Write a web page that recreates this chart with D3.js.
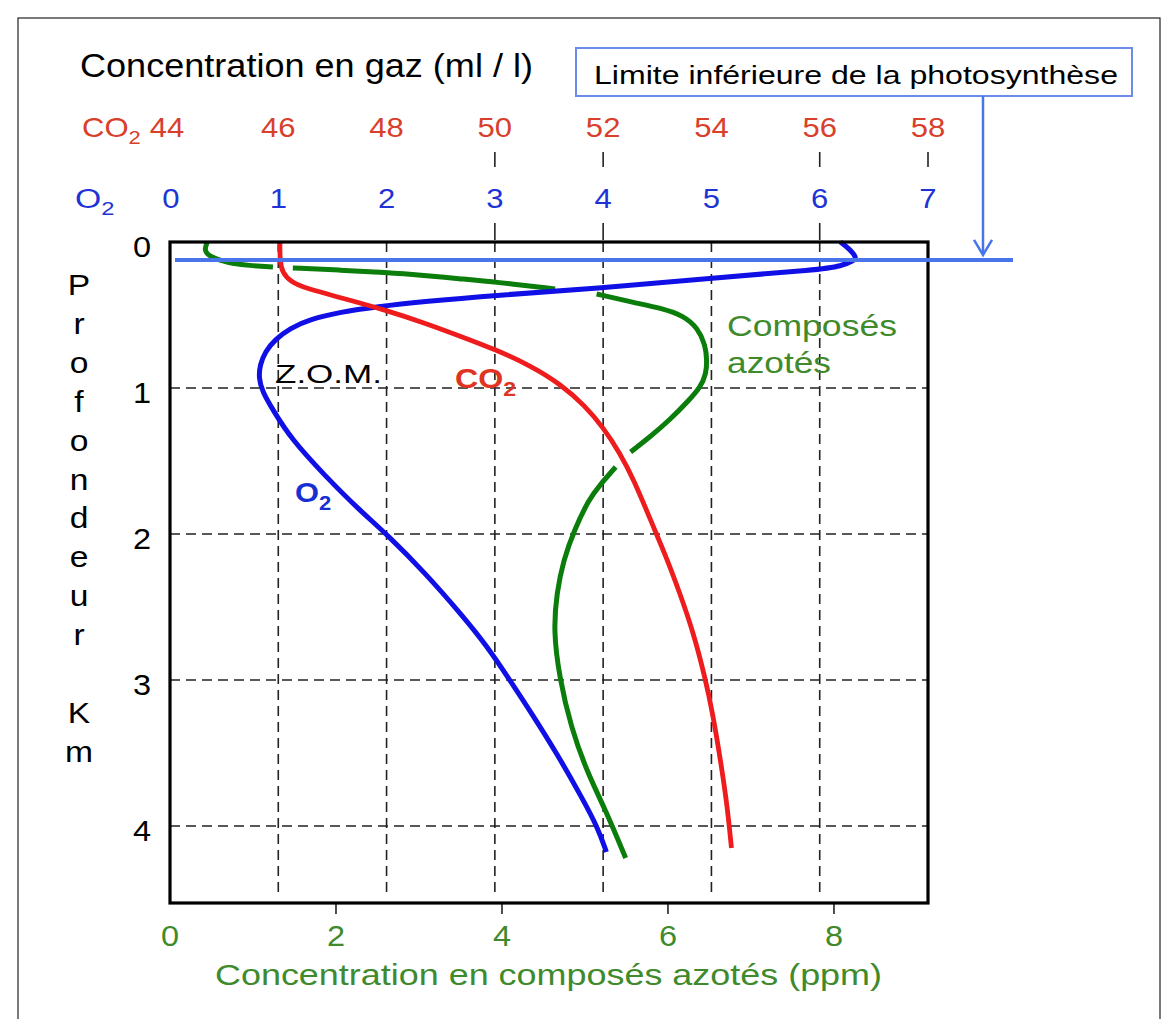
<!DOCTYPE html>
<html>
<head>
<meta charset="utf-8">
<script src="https://cdn.jsdelivr.net/npm/d3@7"></script>
<style>
  html, body { margin: 0; padding: 0; background: #fff; }
  svg { display: block; }
  text { font-family: "Liberation Sans", Arial, sans-serif; }
</style>
</head>
<body>
<svg id="chart" width="1176" height="1019"></svg>
<script>
// ---------------- DATA ----------------
const o2Ticks = [0, 1, 2, 3, 4, 5, 6, 7];
const co2Ticks = [44, 46, 48, 50, 52, 54, 56, 58];
const nitroTicks = [0, 2, 4, 6, 8];
const depthTicks = [0, 1, 2, 3, 4];
const gridO2 = [1, 2, 3, 4, 5, 6];
const gridDepth = [1, 2, 3, 4];
const co2MarkTicks = [50, 52, 56, 58];
const o2MarkTicks = [3, 4, 6];
const photicDepth = 0.123;

// O2 (ml/l) vs depth (km)
const o2Profile = [
  [6.19, 0], [6.27, 0.045], [6.34, 0.105], [6.32, 0.125], [6.20, 0.165], [6.00, 0.19],
  [5.01, 0.245], [4.01, 0.315], [3.00, 0.365], [2.31, 0.41], [1.92, 0.443],
  [1.57, 0.48], [1.29, 0.53], [1.11, 0.59], [0.97, 0.668], [0.88, 0.75],
  [0.83, 0.842], [0.82, 0.932], [0.85, 1.02], [0.95, 1.15], [1.12, 1.35],
  [1.43, 1.60], [1.74, 1.83], [2.01, 2.007], [2.36, 2.27], [2.69, 2.55],
  [2.93, 2.77], [3.12, 2.98], [3.35, 3.24], [3.57, 3.50], [3.80, 3.80],
  [3.95, 4.01], [4.03, 4.178]
];
// CO2 (ml/l) vs depth (km)
const co2Profile = [
  [46.03, 0], [46.03, 0.137], [46.08, 0.21], [46.22, 0.27], [46.52, 0.32],
  [47.20, 0.385], [48.01, 0.47], [48.71, 0.555], [49.36, 0.645], [50.00, 0.735],
  [50.65, 0.845], [51.22, 0.975], [51.66, 1.12], [52.00, 1.27], [52.30, 1.44],
  [52.57, 1.63], [52.87, 1.90], [53.18, 2.17], [53.43, 2.42], [53.67, 2.68],
  [53.88, 2.98], [54.02, 3.22], [54.19, 3.60], [54.30, 3.89], [54.37, 4.151]
];
// Nitrogen compounds (ppm) vs depth (km), drawn as broken segments
const nitroSeg1 = [[0.45, 0.0], [0.41, 0.055], [0.47, 0.10], [0.69, 0.142], [0.96, 0.162], [1.24, 0.171]];
const nitroSeg2 = [[1.48, 0.178], [2.05, 0.192], [2.61, 0.210], [3.01, 0.226], [3.49, 0.252], [3.92, 0.274], [4.64, 0.322]];
const nitroSeg3 = [[5.14, 0.356], [5.59, 0.415], [5.93, 0.455], [6.19, 0.505], [6.36, 0.59], [6.45, 0.705],
  [6.47, 0.808], [6.46, 0.905], [6.39, 0.995], [6.26, 1.08], [6.02, 1.22], [5.78, 1.336], [5.55, 1.438]];
const nitroSeg4 = [[5.37, 1.541], [5.18, 1.664], [5.05, 1.76], [4.87, 1.973], [4.74, 2.18], [4.66, 2.40],
  [4.62, 2.66], [4.69, 2.979], [4.83, 3.322], [5.03, 3.637], [5.24, 3.880], [5.49, 4.219]];

// ---------------- LAYOUT ----------------
const L = 170, R = 928, T = 242, B = 903;
const xO2 = d3.scaleLinear().domain([0, 7]).range([L, R]);
const xCO2 = d3.scaleLinear().domain([44, 58]).range([L, R]);
const xN = d3.scaleLinear().domain([0, 9.133]).range([L, R]);
const yD = d3.scaleLinear().domain([0, 4]).range([T, 826]);

const RED_TXT = "#d8402c", BLUE_TXT = "#1e33d6", GREEN_TXT = "#3f8a2c";
const C_RED = "#ee1c1c", C_BLUE = "#1010e6", C_GREEN = "#0a7d0a", C_LIGHT = "#4a74ea";

const svg = d3.select("#chart");
svg.append("rect").attr("width", 1176).attr("height", 1019).attr("fill", "#fff");
// outer slide border
svg.append("rect").attr("x", 18).attr("y", 18).attr("width", 1142).attr("height", 1030)
  .attr("fill", "none").attr("stroke", "#222").attr("stroke-width", 1.2);

function stretch(sel, sx) {
  sel.each(function () {
    const n = this.getComputedTextLength();
    d3.select(this).attr("textLength", n * sx).attr("lengthAdjust", "spacingAndGlyphs");
  });
}
function txt(x, y, s, o) {
  o = o || {};
  const t = svg.append("text").attr("x", x).attr("y", y)
    .attr("font-size", o.size || 24)
    .attr("fill", o.fill || "#000")
    .attr("font-weight", o.weight || "normal")
    .attr("text-anchor", o.anchor || "start")
    .text(s);
  if (o.len) t.attr("textLength", o.len).attr("lengthAdjust", "spacingAndGlyphs");
  else if (o.sx) stretch(t, o.sx);
  return t;
}
function subTxt(x, y, main, sub, o) {
  const t = svg.append("text").attr("x", x).attr("y", y)
    .attr("font-size", o.size).attr("fill", o.fill).attr("font-weight", o.weight || "normal");
  t.append("tspan").text(main);
  t.append("tspan").attr("font-size", o.subSize).attr("dy", o.dy).text(sub);
  if (o.sx) t.attr("transform", `translate(${x},0) scale(${o.sx},1) translate(${-x},0)`);
  return t;
}

// ---------------- GRID ----------------
const grid = svg.append("g").attr("stroke", "#222").attr("stroke-width", 1.6).attr("stroke-dasharray", "10,6");
grid.selectAll("line.v").data(gridO2).join("line")
  .attr("x1", d => xO2(d)).attr("x2", d => xO2(d)).attr("y1", T).attr("y2", B - 8);
grid.selectAll("line.h").data(gridDepth).join("line")
  .attr("x1", L).attr("x2", R).attr("y1", d => yD(d)).attr("y2", d => yD(d));

// ---------------- TOP AXES ----------------
txt(80, 77, "Concentration en gaz (ml / l)", { size: 33, len: 453 });

subTxt(82, 137, "CO", "2", { size: 27, subSize: 19, dy: 7, fill: RED_TXT, sx: 1.15 });
stretch(svg.selectAll("text.co2t").data(co2Ticks).join("text").attr("class", "co2t")
  .attr("x", d => xCO2(d) + (d === 44 ? -3 : 0)).attr("y", 137)
  .attr("text-anchor", "middle").attr("font-size", 27).attr("fill", RED_TXT)
  .text(d => d), 1.15);
svg.selectAll("line.co2m").data(co2MarkTicks).join("line")
  .attr("x1", d => xCO2(d)).attr("x2", d => xCO2(d)).attr("y1", 152).attr("y2", 167)
  .attr("stroke", "#222").attr("stroke-width", 1.6);

subTxt(75, 208, "O", "2", { size: 27, subSize: 19, dy: 7, fill: BLUE_TXT, sx: 1.25 });
stretch(svg.selectAll("text.o2t").data(o2Ticks).join("text").attr("class", "o2t")
  .attr("x", d => xO2(d) + (d === 0 ? 1 : 0)).attr("y", 208)
  .attr("text-anchor", "middle").attr("font-size", 27).attr("fill", BLUE_TXT)
  .text(d => d), 1.15);
svg.selectAll("line.o2m").data(o2MarkTicks).join("line")
  .attr("x1", d => xO2(d)).attr("x2", d => xO2(d)).attr("y1", 223).attr("y2", 240)
  .attr("stroke", "#222").attr("stroke-width", 1.6);

// ---------------- LEFT AXIS ----------------
stretch(svg.selectAll("text.dt").data(depthTicks).join("text").attr("class", "dt")
  .attr("x", 142).attr("y", d => yD(d) + 15)
  .attr("text-anchor", "middle").attr("font-size", 29).attr("fill", "#000")
  .text(d => d), 1.12);

// "Profondeur", blank line, "Km" stacked vertically
const letterRows = ["P","r","o","f","o","n","d","e","u","r","","K","m"];
letterRows.forEach((c, i) => {
  if (c) txt(79, 295 + i * 38.9, c, { size: 30, anchor: "middle", sx: 1.12 });
});

// ---------------- BOTTOM AXIS ----------------
svg.selectAll("line.nt").data(nitroTicks.filter(d => d > 0)).join("line")
  .attr("x1", d => xN(d)).attr("x2", d => xN(d)).attr("y1", B).attr("y2", B + 11)
  .attr("stroke", "#222").attr("stroke-width", 1.6);
stretch(svg.selectAll("text.nt").data(nitroTicks).join("text").attr("class", "nt")
  .attr("x", d => xN(d)).attr("y", 946)
  .attr("text-anchor", "middle").attr("font-size", 29).attr("fill", GREEN_TXT)
  .text(d => d), 1.12);
txt(215, 985, "Concentration en composés azotés (ppm)", { size: 29, len: 667, fill: GREEN_TXT });

// ---------------- CURVES ----------------
const lineN = d3.line().x(d => xN(d[0])).y(d => yD(d[1])).curve(d3.curveBasis);
const lineO2 = d3.line().x(d => xO2(d[0])).y(d => yD(d[1])).curve(d3.curveBasis);
const lineCO2 = d3.line().x(d => xCO2(d[0])).y(d => yD(d[1])).curve(d3.curveBasis);

const curves = svg.append("g").attr("fill", "none").attr("stroke-linecap", "butt").attr("stroke-linejoin", "round");
[nitroSeg1, nitroSeg2, nitroSeg3, nitroSeg4].forEach(seg => {
  curves.append("path").attr("d", lineN(seg)).attr("stroke", C_GREEN).attr("stroke-width", 5);
});
curves.append("path").attr("d", lineO2(o2Profile)).attr("stroke", C_BLUE).attr("stroke-width", 5);
curves.append("path").attr("d", lineCO2(co2Profile)).attr("stroke", C_RED).attr("stroke-width", 4.8);

// ---------------- FRAME ----------------
svg.append("rect").attr("x", L).attr("y", T).attr("width", R - L).attr("height", B - T)
  .attr("fill", "none").attr("stroke", "#000").attr("stroke-width", 3.2);

// photosynthesis limit
svg.append("line").attr("x1", 175).attr("x2", 1013)
  .attr("y1", yD(photicDepth)).attr("y2", yD(photicDepth))
  .attr("stroke", C_LIGHT).attr("stroke-width", 4);

// annotation box + arrow
svg.append("rect").attr("x", 576).attr("y", 48).attr("width", 556).attr("height", 48)
  .attr("fill", "#fff").attr("stroke", "#6a8ee8").attr("stroke-width", 2);
txt(594, 84, "Limite inférieure de la photosynthèse", { size: 26, len: 524 });
const ax = 983, ay = yD(photicDepth) - 5;
svg.append("line").attr("x1", ax).attr("x2", ax).attr("y1", 96).attr("y2", ay)
  .attr("stroke", C_LIGHT).attr("stroke-width", 2.5);
svg.append("path").attr("d", `M${ax - 9},${ay - 15} L${ax},${ay} L${ax + 9},${ay - 15}`)
  .attr("fill", "none").attr("stroke", C_LIGHT).attr("stroke-width", 2.5);

// ---------------- LABELS ----------------
txt(275, 383, "Z.O.M.", { size: 26, len: 107 });
subTxt(455, 388, "CO", "2", { size: 28, subSize: 20, dy: 8, fill: "#e03322", weight: "bold", sx: 1.15 });
subTxt(295, 502, "O", "2", { size: 28, subSize: 20, dy: 8, fill: "#1a2fd2", weight: "bold", sx: 1.1 });
txt(727, 336, "Composés", { size: 30, len: 170, fill: GREEN_TXT });
txt(727, 373, "azotés", { size: 30, len: 104, fill: GREEN_TXT });
</script>
</body>
</html>
